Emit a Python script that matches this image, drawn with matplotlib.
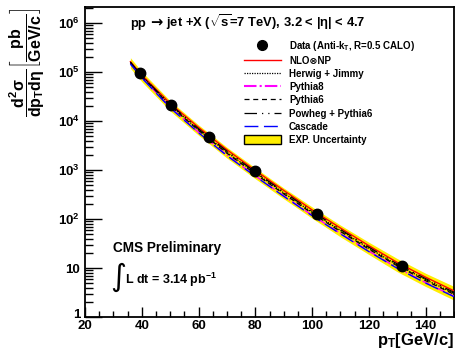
import matplotlib
matplotlib.use('Agg')
import matplotlib.pyplot as plt
import matplotlib.transforms as mtrans
from matplotlib.lines import Line2D
from matplotlib.patches import Patch
from matplotlib.offsetbox import TextArea, HPacker, AnchoredOffsetbox
from matplotlib.ticker import FixedLocator, FixedFormatter, MultipleLocator, NullFormatter

# ROOT-like bold Helvetica look
plt.rcParams['font.family'] = ['Liberation Sans', 'DejaVu Sans']
plt.rcParams['font.weight'] = 'bold'
plt.rcParams['mathtext.fontset'] = 'custom'
plt.rcParams['mathtext.rm'] = 'Liberation Sans:bold'
plt.rcParams['mathtext.it'] = 'Liberation Sans:bold'
plt.rcParams['mathtext.bf'] = 'Liberation Sans:bold'
plt.rcParams['mathtext.sf'] = 'Liberation Sans:bold'

# measured points
data_pt = [39.3, 50.2, 63.6, 79.8, 101.8, 131.8]
data_xs = [9.4e4, 2.1e4, 4.7e3, 950, 124, 10.8]

# theory curves, read at these pT values
curve_pt = [36, 40, 50, 60, 70, 80, 90, 100, 110, 120, 130, 140, 150]
nlo_np = [1.64e5, 8.77e4, 2.30e4, 7.45e3, 2.60e3, 984, 385, 154, 65.5, 28.6, 13.0, 6.5, 3.42]
herwig = [1.57e5, 8.38e4, 2.10e4, 6.64e3, 2.32e3, 877, 343, 137, 58.4, 25.5, 11.6, 5.79, 3.05]
pythia8 = [1.53e5, 7.81e4, 1.91e4, 5.92e3, 2.02e3, 764, 299, 120, 50.8, 22.2, 10.1, 5.04, 2.65]
pythia6 = [1.57e5, 8.18e4, 2.05e4, 6.49e3, 2.21e3, 837, 328, 131, 55.7, 24.3, 11.1, 5.53, 2.91]
powheg = [1.60e5, 8.38e4, 2.20e4, 6.95e3, 2.43e3, 918, 359, 144, 61.1, 26.7, 12.1, 6.06, 3.19]
cascade = [1.46e5, 7.64e4, 1.87e4, 5.78e3, 1.97e3, 747, 292, 117, 49.7, 21.7, 9.87, 4.93, 2.60]

# experimental uncertainty band
band_hi = [1.97e5, 1.03e5, 2.60e4, 8.36e3, 2.92e3, 1104, 432, 177, 75.2, 33.6, 15.6, 7.81, 4.21]
band_lo = [1.20e5, 6.40e4, 1.61e4, 5.16e3, 1.76e3, 665, 260, 104, 43.3, 18.9, 8.40, 4.20, 2.21]

yticks = [1, 10, 1e2, 1e3, 1e4, 1e5, 1e6]
yticklabels = ['1', '10', r'$10^{2}$', r'$10^{3}$', r'$10^{4}$', r'$10^{5}$', r'$10^{6}$']

fig = plt.figure(figsize=(4.55, 3.52), dpi=100)
ax = fig.add_axes([85 / 455, 1 - 317 / 352, 369 / 455, 310 / 352])

yellow = '#ffee00'
ax.fill_between(curve_pt, band_lo, band_hi, color=yellow, lw=0, zorder=1)

ax.plot(curve_pt, nlo_np, color='red', lw=1.0, zorder=3)
ax.plot(curve_pt, herwig, color='black', lw=0.9, ls=(0, (1, 1)), zorder=3)
ax.plot(curve_pt, pythia8, color='#ff00ff', lw=1.1, ls=(0, (6, 1.5, 1, 1.5)), zorder=3)
ax.plot(curve_pt, pythia6, color='black', lw=0.9, ls=(0, (4, 3)), zorder=3)
ax.plot(curve_pt, powheg, color='black', lw=0.9, ls=(0, (10, 4, 1, 4, 1, 4)), zorder=3)
ax.plot(curve_pt, cascade, color='blue', lw=1.0, ls=(0, (10, 4)), zorder=3)
ax.plot(data_pt, data_xs, ls='none', marker='o', ms=7.5, color='black', zorder=5)

ax.set_yscale('log')
ax.set_xlim(20, 150)
ax.set_ylim(1, 2.14e6)

ax.xaxis.set_major_locator(MultipleLocator(20))
ax.xaxis.set_minor_locator(MultipleLocator(5))
ax.yaxis.set_major_locator(FixedLocator(yticks))
ax.yaxis.set_major_formatter(FixedFormatter(yticklabels))
ax.yaxis.set_minor_formatter(NullFormatter())

ax.tick_params(axis='both', which='both', direction='in', top=False, right=False,
               width=1.0, labelsize=9.5)
ax.tick_params(axis='x', which='major', length=7, pad=2)
ax.tick_params(axis='x', which='minor', length=4)
ax.tick_params(axis='y', which='major', length=12, pad=3.5)
ax.tick_params(axis='y', which='minor', length=6)
for lab in ax.get_xticklabels() + ax.get_yticklabels():
    lab.set_fontweight('bold')
for sp in ax.spines.values():
    sp.set_linewidth(1.3)

# lift the "1" label a little so it clears the "20"
t0 = ax.yaxis.get_major_ticks()[0].label1
t0.set_transform(t0.get_transform() + mtrans.ScaledTranslation(0, 3 / 100, fig.dpi_scale_trans))

# title, built from pieces so the arrow can come from DejaVu
tprops = dict(fontsize=9.4, fontweight='bold')
title_box = HPacker(children=[
    TextArea('pp', textprops=tprops),
    TextArea('\u2192', textprops=dict(fontsize=10.5, family=['DejaVu Sans'], fontweight='bold')),
    TextArea(r'jet +X ($\sqrt{s}$=7 TeV), 3.2 < $|\eta|$ < 4.7', textprops=tprops),
], align='baseline', pad=0, sep=3)
fig.add_artist(AnchoredOffsetbox(loc='center left', child=title_box, pad=0, borderpad=0,
                                 frameon=False, bbox_to_anchor=(130 / 455, 1 - 22 / 352),
                                 bbox_transform=fig.transFigure))

fig.text(113 / 455, 1 - 252 / 352, 'CMS Preliminary', fontsize=9.8,
         ha='left', va='baseline')
fig.text(110 / 455, 1 - 277 / 352, '\u222b', fontsize=22, family=['DejaVu Sans'],
         ha='left', va='center', fontweight='normal')
fig.text(125 / 455, 1 - 284 / 352, r'L dt = 3.14 pb$^{-1}$', fontsize=9,
         ha='left', va='baseline')

fig.text(454 / 455, 1 - 345 / 352, r'$p_{T}[GeV/c]$', fontsize=12,
         ha='right', va='baseline')
fig.text(27 / 455, 1 - 8 / 352,
         r'$\dfrac{d^{2}\sigma}{dp_{T}d\eta}\left[\dfrac{pb}{GeV/c}\right]$',
         fontsize=11.5, rotation=90, ha='center', va='top')

# legend
handles = [
    Line2D([], [], ls='none', marker='o', ms=7, color='black'),
    Line2D([], [], color='red', lw=1.0),
    Line2D([], [], color='black', lw=0.9, ls=(0, (1, 1))),
    Line2D([], [], color='#ff00ff', lw=1.5, ls=(0, (6, 1.5, 1, 1.5))),
    Line2D([], [], color='black', lw=0.9, ls=(0, (4, 3))),
    Line2D([], [], color='black', lw=0.9, ls=(0, (10, 4, 1, 4, 1, 4))),
    Line2D([], [], color='blue', lw=1.0, ls=(0, (10, 4))),
    Patch(facecolor=yellow, edgecolor='black', lw=1.0),
]
labels = [
    r'Data (Anti-k$_{T}$, R=0.5 CALO)',
    'NLO\u2297NP',
    'Herwig + Jimmy',
    'Pythia8',
    'Pythia6',
    'Powheg + Pythia6',
    'Cascade',
    'EXP. Uncertainty',
]
fig.legend(handles, labels, loc='upper left', bbox_to_anchor=(244 / 455, 1 - 39 / 352),
           frameon=False, fontsize=7, borderpad=0, borderaxespad=0,
           handlelength=3.8, handleheight=1.1, handletextpad=0.82, labelspacing=0.32)

fig.savefig('out.png', dpi=100)
